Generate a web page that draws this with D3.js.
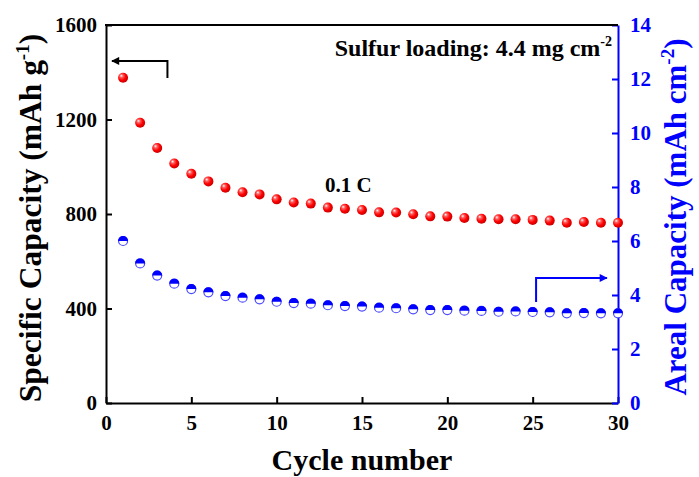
<!DOCTYPE html>
<html><head><meta charset="utf-8">
<script src="https://cdn.jsdelivr.net/npm/d3@7"></script>
<style>
html,body{margin:0;padding:0;background:#fff;}
svg text{font-family:"Liberation Serif","Times New Roman",serif !important;font-weight:bold;}
</style></head>
<body><svg id="c" width="699" height="477"></svg>
<script>
const cycles = [1,2,3,4,5,6,7,8,9,10,11,12,13,14,15,16,17,18,19,20,21,22,23,24,25,26,27,28,29,30];
const specificCapacity = [1377,1186,1079,1014,970,938,911,892,883,862,849,844,827,822,817,807,806,799,790,789,783,780,778,778,775,772,763,766,763,763];
const arealCapacity = [6.0,5.17,4.72,4.42,4.22,4.10,3.96,3.90,3.84,3.75,3.70,3.68,3.62,3.59,3.57,3.53,3.51,3.47,3.44,3.44,3.42,3.41,3.38,3.39,3.37,3.36,3.32,3.33,3.32,3.32];
const xTicks = [0,5,10,15,20,25,30];
const leftTicks = [0,400,800,1200,1600];
const rightTicks = [0,2,4,6,8,10,12,14];

const m={l:106,r:618,t:25,b:403};
const x=d3.scaleLinear().domain([0,30]).range([m.l,m.r]);
const yL=d3.scaleLinear().domain([0,1600]).range([m.b,m.t]);
const yR=d3.scaleLinear().domain([0,14]).range([m.b,m.t]);
const svg=d3.select("#c");
const FF='"Liberation Serif","Times New Roman",serif';
const defs=svg.append("defs");
const rg=defs.append("radialGradient").attr("id","ball").attr("cx","0.4").attr("cy","0.4").attr("r","0.65").attr("fx","0.32").attr("fy","0.3");
rg.append("stop").attr("offset","0").attr("stop-color","#ffffff");
rg.append("stop").attr("offset","0.25").attr("stop-color","#ff6060");
rg.append("stop").attr("offset","0.6").attr("stop-color","#ff0000");
rg.append("stop").attr("offset","1").attr("stop-color","#c00000");
defs.append("marker").attr("id","ahK").attr("viewBox","0 0 10 10").attr("refX","9").attr("refY","5")
  .attr("markerWidth","11").attr("markerHeight","8").attr("markerUnits","userSpaceOnUse").attr("orient","auto")
  .append("path").attr("d","M0,0L10,5L0,10Z").attr("fill","#000");
defs.append("marker").attr("id","ahB").attr("viewBox","0 0 10 10").attr("refX","9").attr("refY","5")
  .attr("markerWidth","12").attr("markerHeight","8").attr("markerUnits","userSpaceOnUse").attr("orient","auto")
  .append("path").attr("d","M0,0L10,5L0,10Z").attr("fill","#0000ff");

const fmt=d3.format("d");
const ax=svg.append("g").attr("transform",`translate(0,${m.b})`)
  .call(d3.axisBottom(x).tickValues(xTicks).tickFormat(fmt).tickSizeInner(-6).tickSizeOuter(0).tickPadding(12));
const al=svg.append("g").attr("transform",`translate(${m.l},0)`)
  .call(d3.axisLeft(yL).tickValues(leftTicks).tickFormat(fmt).tickSizeInner(-6).tickSizeOuter(0).tickPadding(9));
const ar=svg.append("g").attr("transform",`translate(${m.r},0)`)
  .call(d3.axisRight(yR).tickValues(rightTicks).tickFormat(fmt).tickSizeInner(-6).tickSizeOuter(0).tickPadding(12));
[ax,al,ar].forEach(g=>g.attr("font-family",FF).attr("font-weight","bold").attr("font-size",21));
[ax,al].forEach(g=>{g.selectAll("path,line").attr("stroke","#000").attr("stroke-width",2);
  g.selectAll("text").attr("fill","#000").style("font-size","21px");});
ar.selectAll("path,line").attr("stroke","#0000ff").attr("stroke-width",2);
ar.selectAll("text").attr("fill","#0000ff").style("font-size","21px");
ax.selectAll("text").attr("dy","0.71em");
svg.append("line").attr("x1",m.l-1).attr("x2",m.r).attr("y1",m.t).attr("y2",m.t).attr("stroke","#000").attr("stroke-width",2);

svg.append("text").attr("x",(m.l+m.r)/2).attr("y",470).attr("text-anchor","middle").style("font-size","30px").attr("fill","#000").text("Cycle number");
const tl=svg.append("text").attr("transform","translate(41,218) rotate(-90)").attr("text-anchor","middle").style("font-size","31.5px").attr("fill","#000");
tl.append("tspan").text("Specific Capacity (mAh g");
tl.append("tspan").attr("dy",-12).style("font-size","19px").text("-1");
tl.append("tspan").attr("dy",12).text(")");
const tr=svg.append("text").attr("transform","translate(686,217) rotate(-90)").attr("text-anchor","middle").style("font-size","31px").attr("fill","#0000ff");
tr.append("tspan").text("Areal Capacity (mAh cm");
tr.append("tspan").attr("dy",-12).style("font-size","19px").text("-2");
tr.append("tspan").attr("dy",12).text(")");

const st=svg.append("text").attr("x",612).attr("y",56).attr("text-anchor","end").style("font-size","24px").attr("fill","#000");
st.append("tspan").text("Sulfur loading: 4.4 mg cm");
st.append("tspan").attr("dy",-10).style("font-size","14px").text("-2");
svg.append("text").attr("x",x(12.83)).attr("y",yL(893)).style("font-size","21px").attr("fill","#000").text("0.1 C");

svg.append("path").attr("d",`M${x(3.6)},${yL(1376)}V${yL(1448)}H${x(0.35)}`).attr("fill","none").attr("stroke","#000").attr("stroke-width",2).attr("marker-end","url(#ahK)");
svg.append("path").attr("d",`M${x(25.2)},${yR(3.74)}V${yR(4.63)}H${x(29.35)}`).attr("fill","none").attr("stroke","#0000ff").attr("stroke-width",2).attr("marker-end","url(#ahB)");

const r=5;
const bg=svg.append("g");
cycles.forEach((c,i)=>{
  const cx=x(c), cy=yR(arealCapacity[i]);
  bg.append("circle").attr("cx",cx).attr("cy",cy).attr("r",r-0.5).attr("fill","#fff").attr("stroke","#4a4aff").attr("stroke-width",1.2);
  bg.append("path").attr("d",`M${cx-r},${cy}A${r},${r} 0 0 1 ${cx+r},${cy}Z`).attr("fill","#0000ff");
});
svg.append("g").selectAll("circle").data(cycles).join("circle")
  .attr("cx",d=>x(d)).attr("cy",(d,i)=>yL(specificCapacity[i])).attr("r",r).attr("fill","url(#ball)");
</script></body></html>
